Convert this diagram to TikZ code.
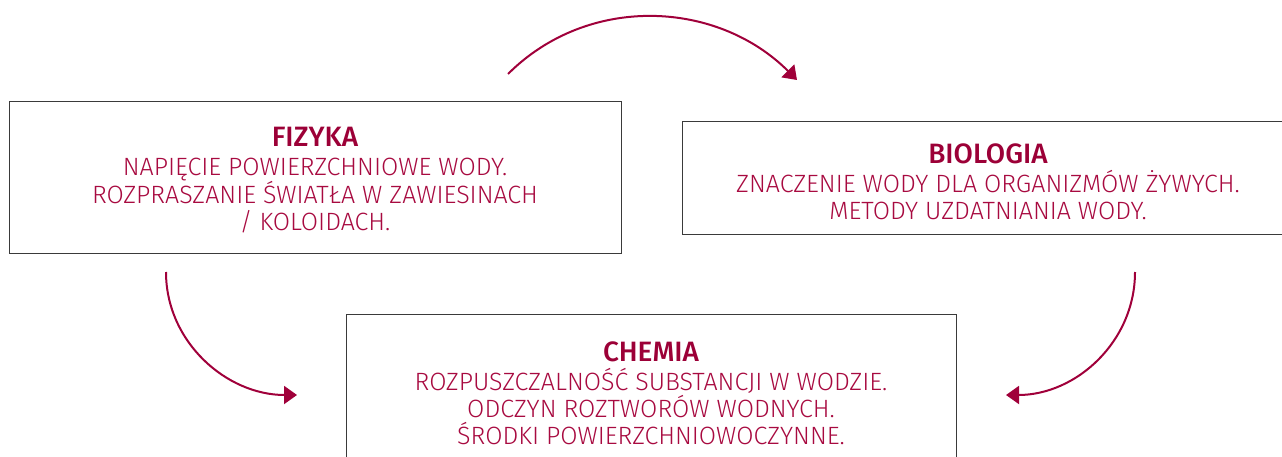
\documentclass[tikz,border=0pt]{standalone}
\usepackage{fontspec}
\setmainfont{Fira Sans}[UprightFont=* Light, BoldFont=* Medium]
\usetikzlibrary{arrows.meta}
\definecolor{txtred}{HTML}{A80A40}
\definecolor{ttlred}{HTML}{9C0037}
\definecolor{arrred}{HTML}{A0003A}
\definecolor{boxgray}{HTML}{3A3A3A}
\tikzset{
  x=1pt, y=1pt,
  box/.style={draw=boxgray, line width=1pt, fill=white, inner sep=0pt},
  label/.style={text=txtred, align=center, font=\fontsize{25}{27}\selectfont, inner sep=0pt},
  flow/.style={draw=arrred, line width=2pt, -{Triangle[length=13pt,width=18pt]}},
}
\newcommand{\ttl}[1]{{\bfseries\color{ttlred}\fontsize{28}{29}\selectfont #1}}
\begin{document}
\begin{tikzpicture}
\useasboundingbox (0,0) rectangle (1282,-457);
\clip (0,0) rectangle (1282,-457);
% boxes
\node[box, minimum width=612pt, minimum height=151pt] (fizbox) at (315,-177.5) {};
\node[box, minimum width=612pt, minimum height=112pt] (biobox) at (988,-178) {};
\node[box, minimum width=610pt, minimum height=157pt] (chembox) at (651,-392.5) {};
% texts
\node[label] (fiz) at (315,-180) {\ttl{FIZYKA}\\[2pt]NAPIĘCIE POWIERZCHNIOWE WODY.\\ROZPRASZANIE ŚWIATŁA W ZAWIESINACH\\/ KOLOIDACH.};
\node[label] (bio) at (988,-182) {\ttl{BIOLOGIA}\\[2pt]ZNACZENIE WODY DLA ORGANIZMÓW ŻYWYCH.\\METODY UZDATNIANIA WODY.};
\node[label] (chem) at (651,-393) {\ttl{CHEMIA}\\[2pt]ROZPUSZCZALNOŚĆ SUBSTANCJI W WODZIE.\\ODCZYN ROZTWORÓW WODNYCH.\\ŚRODKI POWIERZCHNIOWOCZYNNE.};
% arrow end points
\coordinate (t1) at (508,-74);
\coordinate (t2) at (797,-80);
\coordinate (l1) at (166,-272);
\coordinate (l2) at (297,-395);
\coordinate (r1) at (1135,-272);
\coordinate (r2) at (1006,-395);
\draw[flow] (t1) to[out=45, in=135] (t2);
\draw[flow] (l1) to[out=-90, in=180] (l2);
\draw[flow] (r1) to[out=-90, in=0] (r2);
\end{tikzpicture}
\end{document}
